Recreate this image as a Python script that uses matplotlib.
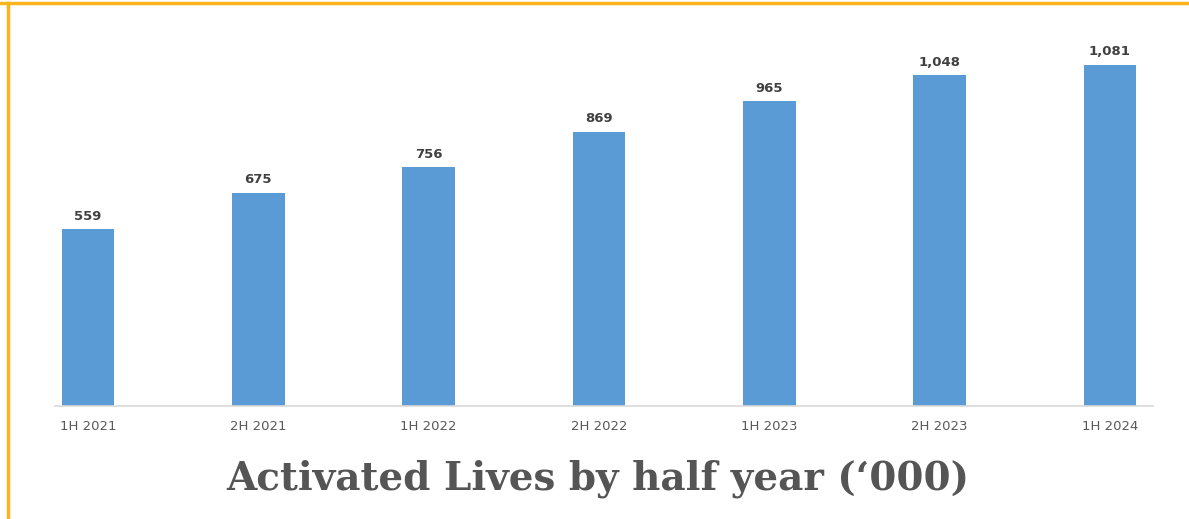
import matplotlib.pyplot as plt
from matplotlib.lines import Line2D

categories = ['1H 2021', '2H 2021', '1H 2022', '2H 2022', '1H 2023', '2H 2023', '1H 2024']
values = [559, 675, 756, 869, 965, 1048, 1081]
title = 'Activated Lives by half year (\u2018000)'

W, H = 1189, 519
fig = plt.figure(figsize=(W / 100, H / 100), dpi=100)
ax = fig.add_axes([55 / W, 1 - 406 / H, (1153 - 55) / W, (406 - 27) / H])

x = range(len(categories))
bars = ax.bar(x, values, width=0.31, color='#5b9bd5', zorder=2)
for xi, v in zip(x, values):
    ax.text(xi, v + 20, f'{v:,}', ha='center', va='bottom',
            fontsize=9.5, fontweight='bold', color='#404040')

ax.set_xlim(-0.194, 6.253)
ax.set_ylim(0, 1200)
ax.set_xticks(list(x))
ax.set_xticklabels(categories, fontsize=9.5, color='#595959')
ax.tick_params(axis='x', length=0, pad=10)
ax.set_yticks([])
for s in ['top', 'right', 'left']:
    ax.spines[s].set_visible(False)
ax.spines['bottom'].set_color('#d9d9d9')
ax.spines['bottom'].set_linewidth(1.2)

fig.text(598 / W, 1 - 479 / H, title, ha='center', va='center',
         fontsize=28, fontweight='bold', family='DejaVu Serif', color='#555555')

# yellow frame on top and left
fig.add_artist(Line2D([0, 1], [1 - 3 / H, 1 - 3 / H], color='#fbb41c', lw=2.5,
                      transform=fig.transFigure))
fig.add_artist(Line2D([8 / W, 8 / W], [0, 1 - 3 / H], color='#fbb41c', lw=2.5,
                      transform=fig.transFigure))

fig.savefig('out.png', dpi=100)
